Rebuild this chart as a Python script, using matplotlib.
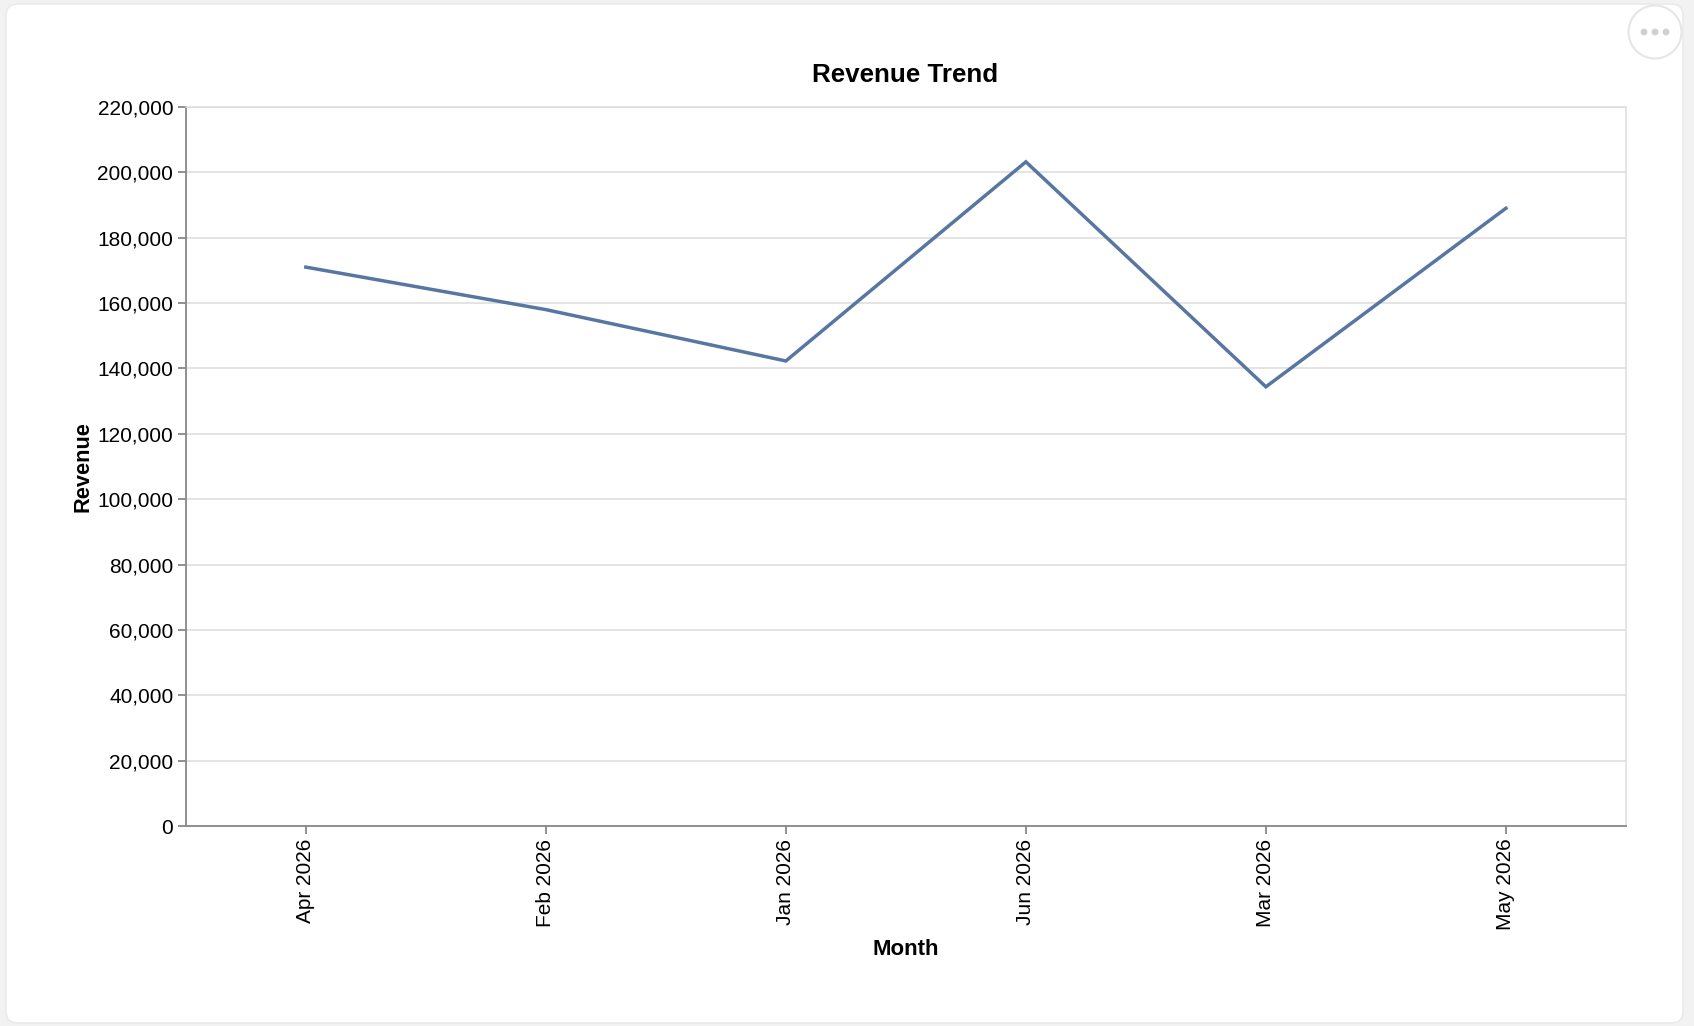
import matplotlib
matplotlib.use("Agg")
import matplotlib.pyplot as plt
from matplotlib.patches import FancyBboxPatch, Circle
from matplotlib.ticker import FuncFormatter, MultipleLocator

plt.rcParams['font.family'] = ['Liberation Sans', 'DejaVu Sans']

# data, in the order the chart shows it
months = ["Apr 2026", "Feb 2026", "Jan 2026", "Jun 2026", "Mar 2026", "May 2026"]
revenue = [171000, 158000, 142300, 203200, 134400, 189000]

W, H = 1694, 1026
fig = plt.figure(figsize=(W / 100, H / 100), dpi=100, facecolor="#f2f2f2")

# background layer in pixel units: white card and the "..." button
bg = fig.add_axes([0, 0, 1, 1], zorder=-1)
bg.set_xlim(0, W)
bg.set_ylim(0, H)
bg.axis("off")
bg.add_patch(FancyBboxPatch((6, 3), 1677, 1019,
                            boxstyle="round,pad=0,rounding_size=12",
                            facecolor="white", edgecolor="#e8e8e8", linewidth=1))
bg.add_patch(Circle((1655, 994), 26.5, facecolor="white",
                    edgecolor="#e6e6e6", linewidth=1.5))
for cx in (1644, 1655, 1666):
    bg.add_patch(Circle((cx, 994), 3.4, facecolor="#d0d0d0", edgecolor="none"))

ax = fig.add_axes([0.1097, 0.1947, 0.8501, 0.7011])
ax.set_facecolor("white")

x = list(range(len(months)))
ax.plot(x, revenue, color="#5876a2", linewidth=2.5, solid_joinstyle="miter", zorder=3)

ax.set_xlim(-0.5, len(months) - 0.5)
ax.set_ylim(0, 220000)
ax.yaxis.set_major_locator(MultipleLocator(20000))
ax.yaxis.set_major_formatter(FuncFormatter(lambda v, p: f"{int(v):,}"))
ax.set_xticks(x)
ax.set_xticklabels(months, rotation=90)

ax.grid(axis="y", color="#dddddd", linewidth=1.1)
ax.set_axisbelow(True)

for side in ("top", "right"):
    ax.spines[side].set_color("#dddddd")
    ax.spines[side].set_linewidth(1.1)
for side in ("left", "bottom"):
    ax.spines[side].set_color("#888888")
    ax.spines[side].set_linewidth(1.3)

ax.tick_params(axis="both", colors="#888888", length=6, width=1.3,
               labelcolor="black", labelsize=15, pad=3)

ax.set_xlabel("Month", fontsize=16, fontweight="bold", labelpad=6)
ax.set_ylabel("Revenue", fontsize=15.7, fontweight="bold", labelpad=3)

fig.text(0.534, 0.927, "Revenue Trend", ha="center", va="center",
         fontsize=18.7, fontweight="bold")

fig.savefig("out.png", dpi=100, facecolor=fig.get_facecolor())
